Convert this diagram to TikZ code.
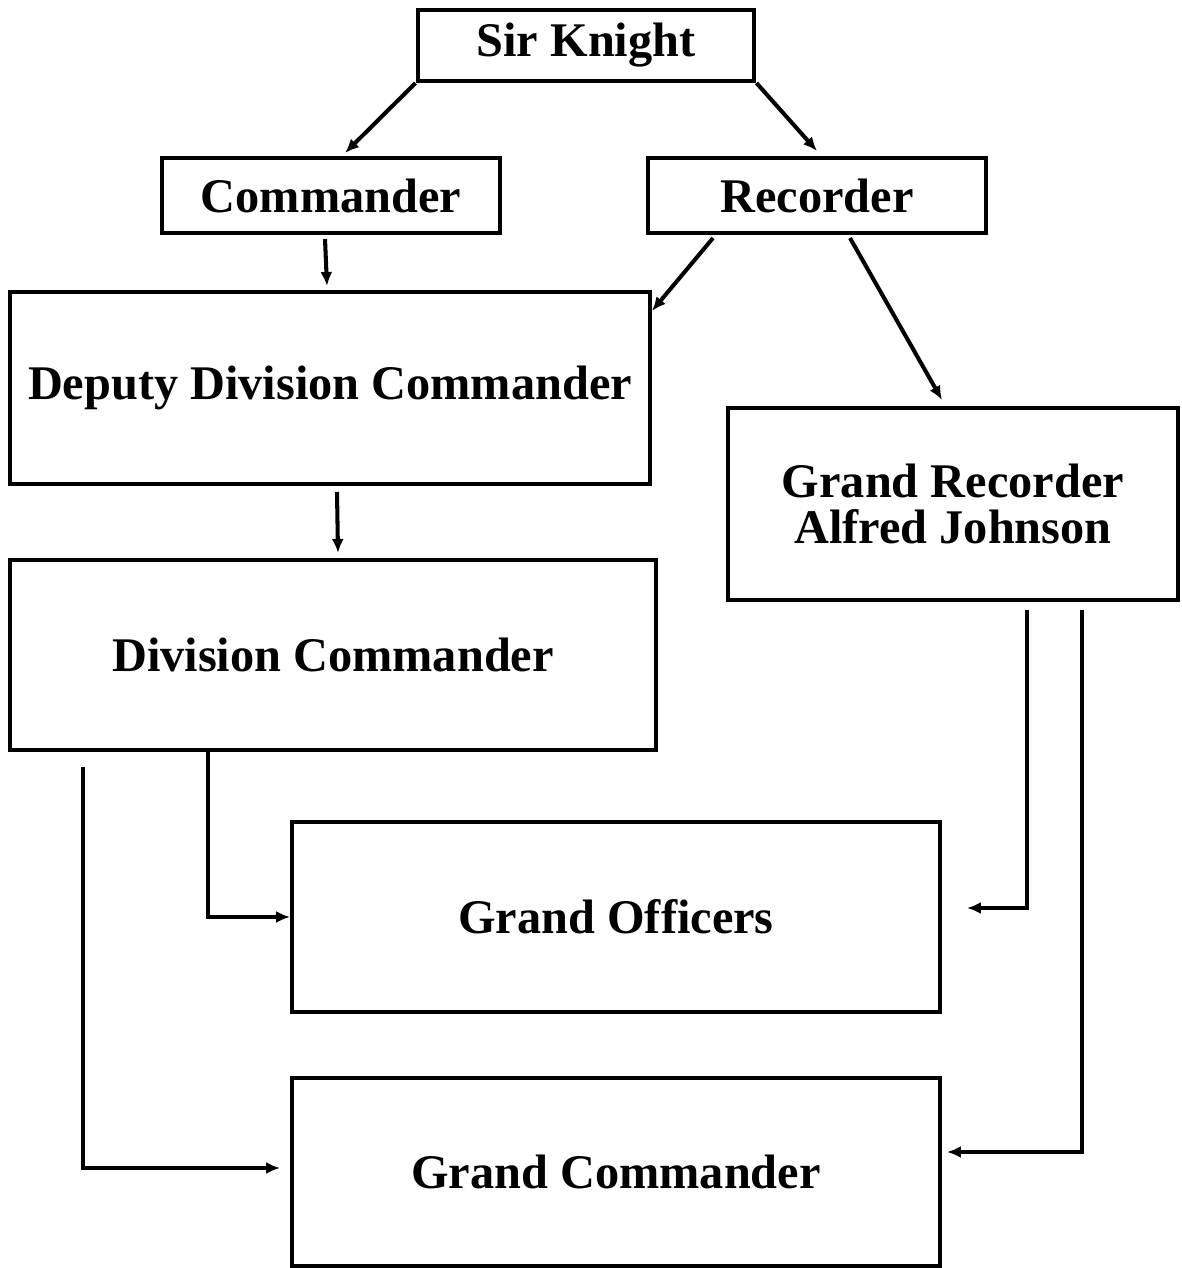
\documentclass[tikz,border=0pt]{standalone}
\usepackage{fontspec}
\setmainfont{Liberation Serif}
\usetikzlibrary{arrows.meta}
\begin{document}
\begin{tikzpicture}[x=0.02cm,y=-0.02cm,line width=2.3pt]
  \tikzstyle{box}=[draw,rectangle,align=center,inner sep=0pt,font=\fontsize{27.5}{26}\selectfont\bfseries]
  \tikzstyle{arr}=[-{Latex[length=0.28cm,width=0.24cm]}]
  \useasboundingbox (0,0) rectangle (1181,1268);

  \node[box,minimum width=6.74cm,minimum height=1.42cm] (SK)  at (586,45.5)  {Sir Knight};
  \node[box,minimum width=6.76cm,minimum height=1.5cm]  (Cmd) at (331,195.5) {Commander};
  \node[box,minimum width=6.76cm,minimum height=1.5cm]  (Rec) at (817,195.5) {Recorder};
  \node[box,minimum width=12.8cm,minimum height=3.84cm] (DDC) at (330,388)   {Deputy Division Commander};
  \node[box,minimum width=9.02cm,minimum height=3.84cm] (GR)  at (953,504)   {Grand Recorder\\Alfred Johnson};
  \node[box,minimum width=12.92cm,minimum height=3.8cm] (DC)  at (333,655)   {Division Commander};
  \node[box,minimum width=12.96cm,minimum height=3.8cm] (GO)  at (616,917)   {Grand Officers};
  \node[box,minimum width=12.96cm,minimum height=3.76cm] (GC)  at (616,1172)  {Grand Commander};

  \draw[arr] (SK.south west) -- ([xshift=0.28cm,yshift=0.06cm]Cmd.north);
  \draw[arr] (SK.south east) -- ([yshift=0.1cm]Rec.north);
  \draw[arr] ([xshift=-0.12cm,yshift=-0.08cm]Cmd.south) -- ([xshift=-0.06cm,yshift=0.08cm]DDC.north);
  \draw[arr] ([xshift=1.34cm,yshift=-0.06cm]Rec.south west) -- ([yshift=-0.42cm]DDC.north east);
  \draw[arr] ([xshift=0.66cm,yshift=-0.06cm]Rec.south) -- ([xshift=-0.22cm,yshift=0.12cm]GR.north);
  \draw[arr] ([xshift=0.14cm,yshift=-0.12cm]DDC.south) -- ([xshift=0.1cm,yshift=0.1cm]DC.north);

  \draw[arr] ([xshift=4cm]DC.south west) |- (GO.west);
  \draw[arr] ([xshift=1.5cm,yshift=-0.3cm]DC.south west) |- ([xshift=-0.2cm,yshift=0.08cm]GC.west);
  \draw[arr] ([xshift=6.04cm,yshift=-0.16cm]GR.south west) |- ([xshift=0.5cm,yshift=0.18cm]GO.east);
  \draw[arr] ([xshift=7.14cm,yshift=-0.16cm]GR.south west) |- ([xshift=0.1cm,yshift=0.4cm]GC.east);
\end{tikzpicture}
\end{document}
